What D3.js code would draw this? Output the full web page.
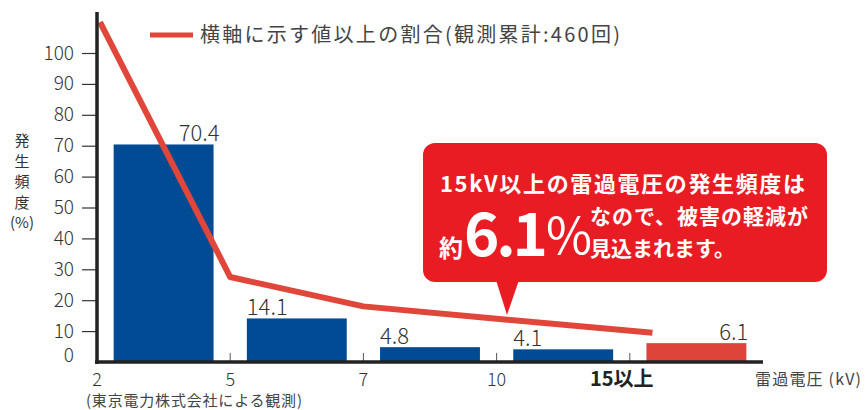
<!DOCTYPE html>
<html>
<head>
<meta charset="utf-8">
<script src="https://cdn.jsdelivr.net/npm/d3@7"></script>
<style>
  body { margin: 0; background: #fff; }
  text { font-family: "Noto Sans CJK JP", "Noto Sans", sans-serif; }
</style>
</head>
<body>
<div id="chart-area"></div>
<script>
// data
var categories = ["2-5", "5-7", "7-10", "10-15", "15以上"];
var freq = [70.4, 14.1, 4.8, 4.1, 6.1];
var tickLabels = ["2", "5", "7", "10", "15以上"];
// ratio line (as drawn), one point per tick
var ratio = [110, 27.5, 18, 14, 9.5];
var yTicks = [0, 10, 20, 30, 40, 50, 60, 70, 80, 90, 100];

var width = 867, height = 410;
var plotLeft = 97, plotRight = 763, plotBottom = 362, plotTop = 53;

var svg = d3.select("#chart-area")
  .append("svg")
  .attr("width", width)
  .attr("height", height)
  .style("background", "#fff");

var x = d3.scaleBand()
  .domain(categories)
  .range([plotLeft, plotRight])
  .paddingInner(0.25)
  .paddingOuter(0.125);

var y = d3.scaleLinear()
  .domain([0, 100])
  .range([plotBottom, plotTop]);

// tick positions = band boundaries
var step = x.step();
var tickX = tickLabels.map((d, i) => plotLeft + i * step);

// bars
svg.selectAll("rect.bar")
  .data(freq)
  .enter().append("rect")
  .attr("class", "bar")
  .attr("x", (d, i) => x(categories[i]))
  .attr("y", d => y(d))
  .attr("width", x.bandwidth())
  .attr("height", d => plotBottom - y(d))
  .attr("fill", (d, i) => i == 4 ? "#de4439" : "#004b93");

// bar labels
svg.selectAll("text.val")
  .data(freq)
  .enter().append("text")
  .attr("class", "val")
  .attr("x", (d, i) => (i == 0 || i == 4) ? x(categories[i]) + x.bandwidth() + (i == 0 ? 6 : 2) : x(categories[i]))
  .attr("y", d => y(d) - 3)
  .attr("text-anchor", (d, i) => (i == 0 || i == 4) ? "end" : "start")
  .attr("font-size", "22px")
  .attr("font-weight", 300)
  .style("fill", "#333")
  .text(d => d.toFixed(1));

// ratio line
var linePts = ratio.map((d, i) => [i < 4 ? tickX[i] + (i == 0 ? 3 : 0) : x(categories[4]) + 6, y(d)]);
svg.append("path")
  .attr("d", d3.line()(linePts))
  .attr("fill", "none")
  .attr("stroke", "#e0463a")
  .attr("stroke-width", 6)
  .attr("stroke-linejoin", "round");

// small x ticks
svg.selectAll("line.xt")
  .data(tickX.slice(1))
  .enter().append("line")
  .attr("x1", d => d).attr("x2", d => d)
  .attr("y1", plotBottom - 9).attr("y2", plotBottom)
  .attr("stroke", "#555").attr("stroke-width", 1);

// axes
var yAxisG = svg.append("g")
  .attr("transform", "translate(" + plotLeft + ",0)")
  .call(d3.axisLeft(y).tickValues(yTicks).tickSize(15).tickPadding(8));
yAxisG.select(".domain").remove();
yAxisG.selectAll(".tick line")
  .attr("stroke", "#333")
  .attr("stroke-width", 1.2)
  .style("display", d => d == 0 ? "none" : null);
yAxisG.selectAll("text")
  .attr("font-size", "19px")
  .attr("font-weight", 300)
  .attr("font-family", "'Noto Sans CJK JP', sans-serif")
  .attr("dy", d => d == 0 ? "-0.05em" : "0.32em")
  .style("fill", "#333");

svg.append("line")
  .attr("x1", plotLeft).attr("x2", plotLeft)
  .attr("y1", 12).attr("y2", plotBottom + 2)
  .attr("stroke", "#222").attr("stroke-width", 3.5);
svg.append("line")
  .attr("x1", plotLeft - 2).attr("x2", plotRight)
  .attr("y1", plotBottom).attr("y2", plotBottom)
  .attr("stroke", "#222").attr("stroke-width", 3.5);

// x tick labels
svg.selectAll("text.xl")
  .data(tickLabels)
  .enter().append("text")
  .attr("class", "xl")
  .attr("x", (d, i) => i == 4 ? tickX[i] - 8 : tickX[i])
  .attr("y", 386)
  .attr("text-anchor", "middle")
  .attr("font-size", (d, i) => i == 4 ? "20px" : "18px")
  .attr("font-weight", (d, i) => i == 4 ? 700 : 300)
  .style("fill", (d, i) => i == 4 ? "#222" : "#333")
  .text(d => d);

svg.append("text")
  .attr("x", 755).attr("y", 385)
  .attr("font-size", "16px")
  .attr("textLength", 106)
  .style("fill", "#444")
  .text("雷過電圧 (kV)");

// y label, stacked
var yLab = ["発", "生", "頻", "度", "(%)"];
svg.selectAll("text.yl")
  .data(yLab)
  .enter().append("text")
  .attr("x", 22)
  .attr("y", (d, i) => 146 + i * 20.5)
  .attr("text-anchor", "middle")
  .attr("font-size", "15px")
  .style("fill", "#333")
  .text(d => d);

// footnote
svg.append("text")
  .attr("x", 86).attr("y", 406)
  .attr("font-size", "15px")
  .attr("textLength", 216)
  .style("fill", "#444")
  .text("(東京電力株式会社による観測)");

// legend
svg.append("line")
  .attr("x1", 150).attr("x2", 193)
  .attr("y1", 35).attr("y2", 35)
  .attr("stroke", "#e0463a").attr("stroke-width", 5);
svg.append("text")
  .attr("x", 200).attr("y", 42)
  .attr("font-size", "20px")
  .attr("textLength", 420)
  .style("fill", "#444")
  .text("横軸に示す値以上の割合(観測累計:460回)");

// callout
var co = svg.append("g");
co.append("rect")
  .attr("x", 423).attr("y", 143)
  .attr("width", 404).attr("height", 139)
  .attr("rx", 12)
  .attr("fill", "#e91c24");
co.append("path")
  .attr("d", "M496,280 L519,280 L507,315 Z")
  .attr("fill", "#e91c24");
co.append("text")
  .attr("x", 440).attr("y", 192)
  .attr("font-size", "22px").attr("font-weight", 700)
  .attr("textLength", 365)
  .style("fill", "#fff")
  .text("15kV以上の雷過電圧の発生頻度は");
co.append("text")
  .attr("x", 439).attr("y", 257)
  .attr("font-size", "24px").attr("font-weight", 700)
  .style("fill", "#fff")
  .text("約");
co.append("text")
  .attr("x", 464).attr("y", 256)
  .attr("font-size", "60px").attr("font-weight", 700)
  .attr("font-family", "'Noto Sans', sans-serif")
  .attr("textLength", 84)
  .style("fill", "#fff")
  .text("6.1");
co.append("text")
  .attr("x", 546).attr("y", 254)
  .attr("font-size", "50px").attr("font-weight", 400)
  .attr("font-family", "'Noto Sans', sans-serif")
  .attr("textLength", 38)
  .style("fill", "#fff")
  .text("%");
co.append("text")
  .attr("x", 590).attr("y", 224)
  .attr("font-size", "21px").attr("font-weight", 700)
  .attr("textLength", 218)
  .style("fill", "#fff")
  .text("なので、被害の軽減が");
co.append("text")
  .attr("x", 590).attr("y", 256)
  .attr("font-size", "21px").attr("font-weight", 700)
  .style("fill", "#fff")
  .text("見込まれます。");
</script>
</body>
</html>
